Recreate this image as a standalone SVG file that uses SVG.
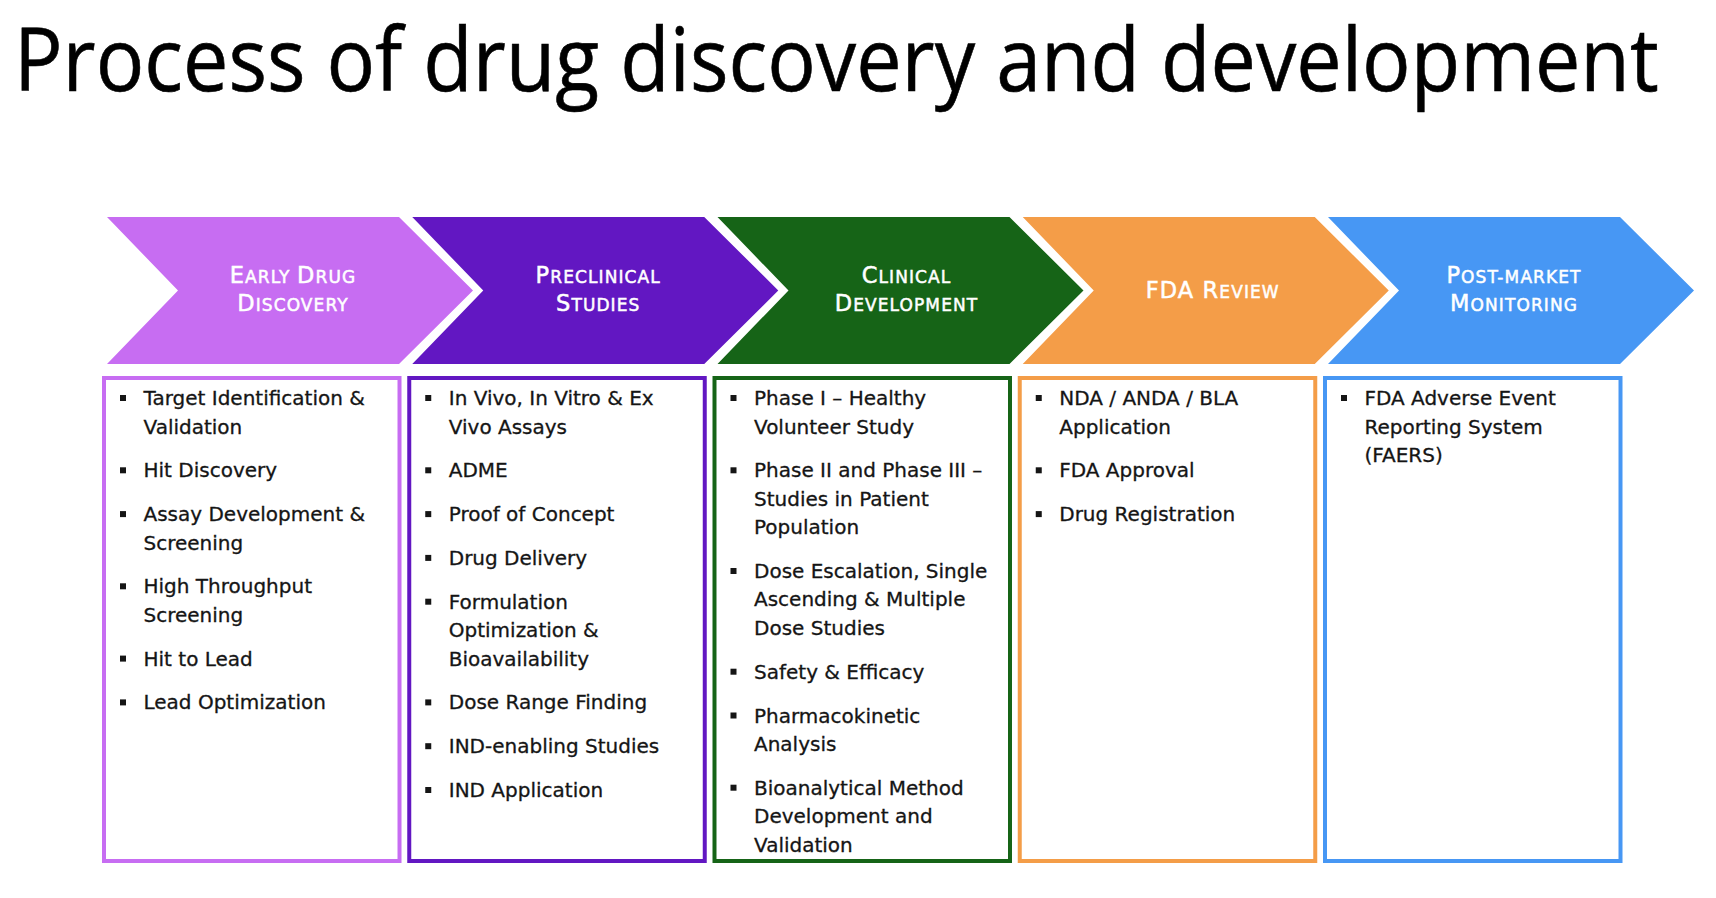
<svg xmlns="http://www.w3.org/2000/svg" width="1716" height="898" viewBox="0 0 1716 898">
  <style>
    .title { font-family: "Open Sans", "Liberation Sans", sans-serif; font-size: 87px; fill: #000; stroke: #000; stroke-width: 0.6px; }
    .head { font-family: "DejaVu Sans", sans-serif; fill: #fff; stroke: #fff; stroke-width: 0.5px; text-anchor: middle; letter-spacing: 1.1px; }
    .big { font-size: 22.5px; }
    .sm { font-size: 17px; }
    .item { font-family: "DejaVu Sans", sans-serif; font-size: 20px; fill: #151515; stroke: #151515; stroke-width: 0.3px; }
    .box { fill: none; stroke-width: 4; }
    .dot { fill: #151515; }
    #s1 .fill { fill: #C76DF2; } #s1 .box { stroke: #C76DF2; }
    #s2 .fill { fill: #6217C2; } #s2 .box { stroke: #6217C2; }
    #s3 .fill { fill: #166417; } #s3 .box { stroke: #166417; }
    #s4 .fill { fill: #F49D48; } #s4 .box { stroke: #F49D48; }
    #s5 .fill { fill: #4797F4; } #s5 .box { stroke: #4797F4; }
  </style>
  <defs>
    <polygon id="chevron" points="107,217 399,217 473,290.5 399,364 107,364 178,290.5"/>
    <rect id="bullet" x="120" y="-10" width="6" height="6"/>
  </defs>

  <rect width="1716" height="898" fill="#ffffff"/>

  <!-- heading, narrowed horizontally to span 1645px -->
  <text class="title" x="0" y="0" transform="translate(14 91) scale(0.88 1)" textLength="1869" lengthAdjust="spacingAndGlyphs">Process of drug discovery and development</text>

  <!-- Stage 1: early drug discovery -->
  <g id="s1">
    <use href="#chevron" class="fill"/>
    <text class="head" x="293" y="283"><tspan class="big">E</tspan><tspan class="sm">ARLY </tspan><tspan class="big">D</tspan><tspan class="sm">RUG</tspan></text>
    <text class="head" x="293" y="311"><tspan class="big">D</tspan><tspan class="sm">ISCOVERY</tspan></text>
    <rect class="box" x="104" y="378" width="295.5" height="483"/>
    <g class="dot">
      <use href="#bullet" y="405"/><use href="#bullet" y="477.3"/><use href="#bullet" y="521.1"/>
      <use href="#bullet" y="593.3"/><use href="#bullet" y="665.6"/><use href="#bullet" y="709.4"/>
    </g>
    <text class="item">
      <tspan x="143.5" y="405">Target Identification &amp;</tspan>
      <tspan x="143.5" y="433.5">Validation</tspan>
      <tspan x="143.5" y="477.3">Hit Discovery</tspan>
      <tspan x="143.5" y="521.1">Assay Development &amp;</tspan>
      <tspan x="143.5" y="549.5">Screening</tspan>
      <tspan x="143.5" y="593.3">High Throughput</tspan>
      <tspan x="143.5" y="621.8">Screening</tspan>
      <tspan x="143.5" y="665.6">Hit to Lead</tspan>
      <tspan x="143.5" y="709.4">Lead Optimization</tspan>
    </text>
  </g>

  <!-- Stage 2: preclinical studies -->
  <g id="s2" transform="translate(305.25,0)">
    <use href="#chevron" class="fill"/>
    <text class="head" x="293" y="283"><tspan class="big">P</tspan><tspan class="sm">RECLINICAL</tspan></text>
    <text class="head" x="293" y="311"><tspan class="big">S</tspan><tspan class="sm">TUDIES</tspan></text>
    <rect class="box" x="104" y="378" width="295.5" height="483"/>
    <g class="dot">
      <use href="#bullet" y="405"/><use href="#bullet" y="477.3"/><use href="#bullet" y="521.1"/>
      <use href="#bullet" y="564.9"/><use href="#bullet" y="608.7"/><use href="#bullet" y="709.4"/>
      <use href="#bullet" y="753.2"/><use href="#bullet" y="797"/>
    </g>
    <text class="item">
      <tspan x="143.5" y="405">In Vivo, In Vitro &amp; Ex</tspan>
      <tspan x="143.5" y="433.5">Vivo Assays</tspan>
      <tspan x="143.5" y="477.3">ADME</tspan>
      <tspan x="143.5" y="521.1">Proof of Concept</tspan>
      <tspan x="143.5" y="564.9">Drug Delivery</tspan>
      <tspan x="143.5" y="608.7">Formulation</tspan>
      <tspan x="143.5" y="637.1">Optimization &amp;</tspan>
      <tspan x="143.5" y="665.6">Bioavailability</tspan>
      <tspan x="143.5" y="709.4">Dose Range Finding</tspan>
      <tspan x="143.5" y="753.2">IND-enabling Studies</tspan>
      <tspan x="143.5" y="797">IND Application</tspan>
    </text>
  </g>

  <!-- Stage 3: clinical development -->
  <g id="s3" transform="translate(610.5,0)">
    <use href="#chevron" class="fill"/>
    <text class="head" x="296" y="283"><tspan class="big">C</tspan><tspan class="sm">LINICAL</tspan></text>
    <text class="head" x="296" y="311"><tspan class="big">D</tspan><tspan class="sm">EVELOPMENT</tspan></text>
    <rect class="box" x="104" y="378" width="295.5" height="483"/>
    <g class="dot">
      <use href="#bullet" y="405"/><use href="#bullet" y="477.3"/><use href="#bullet" y="578"/>
      <use href="#bullet" y="678.7"/><use href="#bullet" y="722.5"/><use href="#bullet" y="794.7"/>
    </g>
    <text class="item">
      <tspan x="143.5" y="405">Phase I – Healthy</tspan>
      <tspan x="143.5" y="433.5">Volunteer Study</tspan>
      <tspan x="143.5" y="477.3">Phase II and Phase III –</tspan>
      <tspan x="143.5" y="505.7">Studies in Patient</tspan>
      <tspan x="143.5" y="534.2">Population</tspan>
      <tspan x="143.5" y="578">Dose Escalation, Single</tspan>
      <tspan x="143.5" y="606.4">Ascending &amp; Multiple</tspan>
      <tspan x="143.5" y="634.9">Dose Studies</tspan>
      <tspan x="143.5" y="678.7">Safety &amp; Efficacy</tspan>
      <tspan x="143.5" y="722.5">Pharmacokinetic</tspan>
      <tspan x="143.5" y="750.9">Analysis</tspan>
      <tspan x="143.5" y="794.7">Bioanalytical Method</tspan>
      <tspan x="143.5" y="823.2">Development and</tspan>
      <tspan x="143.5" y="851.6">Validation</tspan>
    </text>
  </g>

  <!-- Stage 4: FDA review -->
  <g id="s4" transform="translate(915.75,0)">
    <use href="#chevron" class="fill"/>
    <text class="head" x="297" y="298"><tspan class="big">FDA R</tspan><tspan class="sm">EVIEW</tspan></text>
    <rect class="box" x="104" y="378" width="295.5" height="483"/>
    <g class="dot">
      <use href="#bullet" y="405"/><use href="#bullet" y="477.3"/><use href="#bullet" y="521.1"/>
    </g>
    <text class="item">
      <tspan x="143.5" y="405">NDA / ANDA / BLA</tspan>
      <tspan x="143.5" y="433.5">Application</tspan>
      <tspan x="143.5" y="477.3">FDA Approval</tspan>
      <tspan x="143.5" y="521.1">Drug Registration</tspan>
    </text>
  </g>

  <!-- Stage 5: post-market monitoring -->
  <g id="s5" transform="translate(1221,0)">
    <use href="#chevron" class="fill"/>
    <text class="head" x="293" y="283"><tspan class="big">P</tspan><tspan class="sm">OST-MARKET</tspan></text>
    <text class="head" x="293" y="311"><tspan class="big">M</tspan><tspan class="sm">ONITORING</tspan></text>
    <rect class="box" x="104" y="378" width="295.5" height="483"/>
    <g class="dot">
      <use href="#bullet" y="405"/>
    </g>
    <text class="item">
      <tspan x="143.5" y="405">FDA Adverse Event</tspan>
      <tspan x="143.5" y="433.5">Reporting System</tspan>
      <tspan x="143.5" y="461.9">(FAERS)</tspan>
    </text>
  </g>
</svg>
